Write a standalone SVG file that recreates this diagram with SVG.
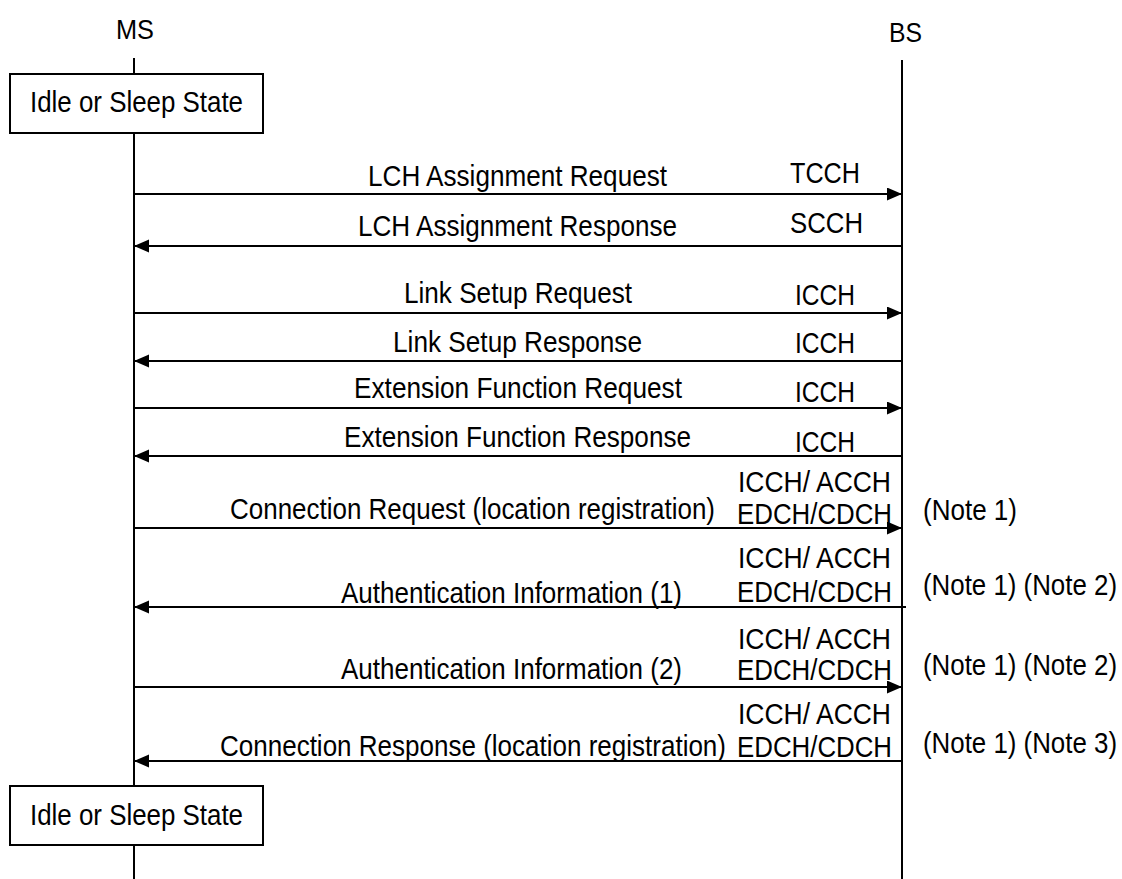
<svg xmlns="http://www.w3.org/2000/svg" width="1122" height="879" viewBox="0 0 1122 879">
<style>
text{font-family:"Liberation Sans",Arial,sans-serif;fill:#000;font-size:30px}
.hd{font-size:28px}
.life{stroke:#000;stroke-width:2;fill:none}
.box{fill:#fff;stroke:#000;stroke-width:2}
.msg{stroke:#000;stroke-width:2;fill:none;marker-end:url(#arr)}
</style>
<defs>
<marker id="arr" markerUnits="userSpaceOnUse" markerWidth="16" markerHeight="14" refX="15" refY="6.5" orient="auto">
<path d="M0,0 L15,6.5 L0,13 z" fill="#000"/>
</marker>
</defs>
<rect width="1122" height="879" fill="#fff"/>
<g id="lifelines">
<line class="life" x1="134" y1="58" x2="134" y2="879"/>
<line class="life" x1="902" y1="60" x2="902" y2="879"/>
</g>
<g id="ms">
<text class="hd" x="116" y="39" textLength="38" lengthAdjust="spacingAndGlyphs">MS</text>
</g>
<g id="bs">
<text class="hd" x="889" y="42" textLength="33" lengthAdjust="spacingAndGlyphs">BS</text>
</g>
<g id="state-top">
<rect class="box" x="10" y="74" width="253" height="59"/>
<text x="30" y="112" textLength="213" lengthAdjust="spacingAndGlyphs">Idle or Sleep State</text>
</g>
<g id="state-bottom">
<rect class="box" x="10" y="786" width="253" height="59"/>
<text x="30" y="825" textLength="213" lengthAdjust="spacingAndGlyphs">Idle or Sleep State</text>
</g>
<g id="connectors">
<line class="msg" x1="134" y1="194" x2="902" y2="194"/>
<line class="msg" x1="902" y1="246" x2="134" y2="246"/>
<line class="msg" x1="134" y1="313" x2="902" y2="313"/>
<line class="msg" x1="902" y1="361" x2="134" y2="361"/>
<line class="msg" x1="134" y1="408" x2="902" y2="408"/>
<line class="msg" x1="902" y1="456" x2="134" y2="456"/>
<line class="msg" x1="134" y1="528" x2="902" y2="528"/>
<line class="msg" x1="906" y1="607" x2="134" y2="607"/>
<line class="msg" x1="134" y1="687" x2="902" y2="687"/>
<line class="msg" x1="902" y1="761" x2="134" y2="761"/>
</g>
<g id="labels">
<text x="368" y="186" textLength="299" lengthAdjust="spacingAndGlyphs">LCH Assignment Request</text>
<text x="790" y="183" textLength="70" lengthAdjust="spacingAndGlyphs">TCCH</text>
<text x="358" y="236" textLength="319" lengthAdjust="spacingAndGlyphs">LCH Assignment Response</text>
<text x="790" y="233" textLength="73" lengthAdjust="spacingAndGlyphs">SCCH</text>
<text x="404" y="303" textLength="228" lengthAdjust="spacingAndGlyphs">Link Setup Request</text>
<text x="795" y="305" textLength="60" lengthAdjust="spacingAndGlyphs">ICCH</text>
<text x="393" y="352" textLength="249" lengthAdjust="spacingAndGlyphs">Link Setup Response</text>
<text x="795" y="353" textLength="60" lengthAdjust="spacingAndGlyphs">ICCH</text>
<text x="354" y="398" textLength="328" lengthAdjust="spacingAndGlyphs">Extension Function Request</text>
<text x="795" y="402" textLength="60" lengthAdjust="spacingAndGlyphs">ICCH</text>
<text x="344" y="447" textLength="347" lengthAdjust="spacingAndGlyphs">Extension Function Response</text>
<text x="795" y="452" textLength="60" lengthAdjust="spacingAndGlyphs">ICCH</text>
<text x="230" y="519" textLength="485" lengthAdjust="spacingAndGlyphs">Connection Request (location registration)</text>
<text x="738" y="492" textLength="153" lengthAdjust="spacingAndGlyphs">ICCH/ ACCH</text>
<text x="737" y="524" textLength="155" lengthAdjust="spacingAndGlyphs">EDCH/CDCH</text>
<text x="923" y="520" textLength="94" lengthAdjust="spacingAndGlyphs">(Note 1)</text>
<text x="341" y="603" textLength="341" lengthAdjust="spacingAndGlyphs">Authentication Information (1)</text>
<text x="738" y="568" textLength="153" lengthAdjust="spacingAndGlyphs">ICCH/ ACCH</text>
<text x="737" y="602" textLength="155" lengthAdjust="spacingAndGlyphs">EDCH/CDCH</text>
<text x="923" y="595" textLength="194" lengthAdjust="spacingAndGlyphs">(Note 1) (Note 2)</text>
<text x="341" y="679" textLength="341" lengthAdjust="spacingAndGlyphs">Authentication Information (2)</text>
<text x="738" y="649" textLength="153" lengthAdjust="spacingAndGlyphs">ICCH/ ACCH</text>
<text x="737" y="680" textLength="155" lengthAdjust="spacingAndGlyphs">EDCH/CDCH</text>
<text x="923" y="675" textLength="194" lengthAdjust="spacingAndGlyphs">(Note 1) (Note 2)</text>
<text x="220" y="756" textLength="506" lengthAdjust="spacingAndGlyphs">Connection Response (location registration)</text>
<text x="738" y="724" textLength="153" lengthAdjust="spacingAndGlyphs">ICCH/ ACCH</text>
<text x="737" y="757" textLength="155" lengthAdjust="spacingAndGlyphs">EDCH/CDCH</text>
<text x="923" y="753" textLength="194" lengthAdjust="spacingAndGlyphs">(Note 1) (Note 3)</text>
</g>
</svg>
